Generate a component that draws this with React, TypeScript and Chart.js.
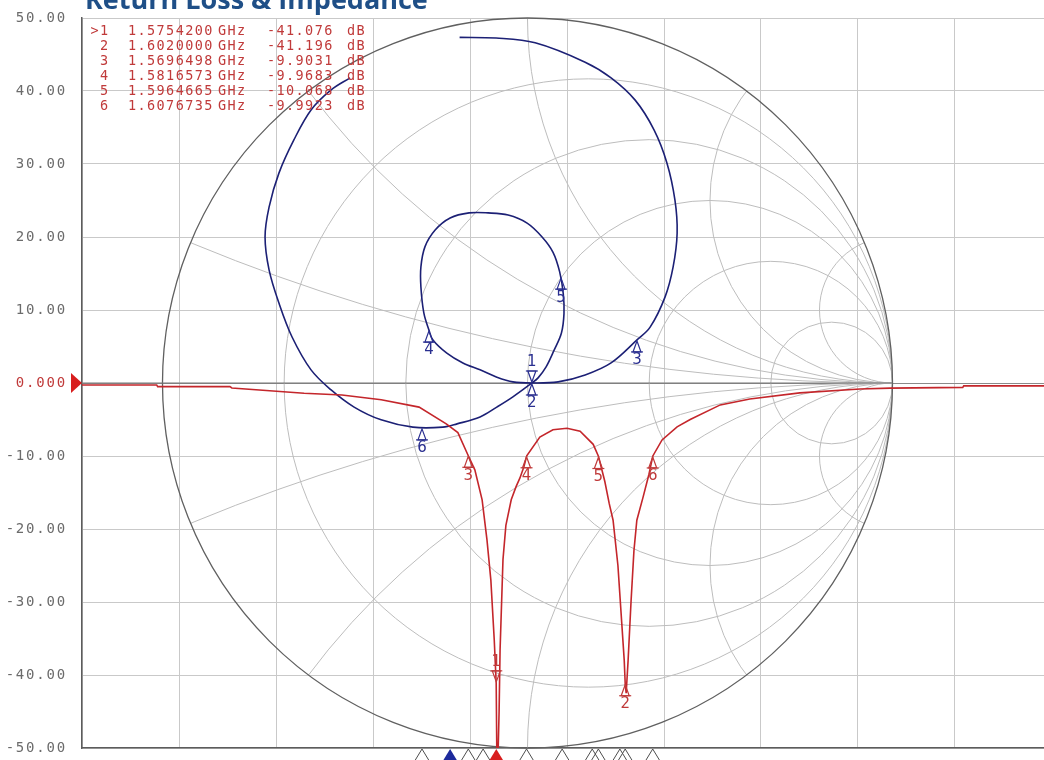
import { useEffect, useRef } from 'react';
import { Chart, registerables } from 'chart.js';

Chart.register(...registerables);

// ---------------- data ----------------
const titleText = 'Return Loss & Impedance';

const xGridTicksGHz = [1.49, 1.51, 1.53, 1.55, 1.57, 1.59, 1.61, 1.63, 1.65, 1.67, 1.69];
const yTicksDb = [-50, -40, -30, -20, -10, 0, 10, 20, 30, 40, 50];

// Return loss trace (frequency GHz, dB)
const rlFreqGHz = [
  1.49, 1.5054, 1.5056, 1.5205, 1.5209, 1.5358, 1.5436, 1.5517, 1.5595, 1.5651, 1.5675,
  1.5696, 1.571, 1.5725, 1.5735, 1.5743, 1.575, 1.5754, 1.5756, 1.576, 1.5762, 1.5768,
  1.5774, 1.5785, 1.5795, 1.5803, 1.5811, 1.5817, 1.5844, 1.5871, 1.59, 1.5927, 1.5954,
  1.5965, 1.5978, 1.5987, 1.5995, 1.6005, 1.6013, 1.6018, 1.602, 1.6022, 1.6026, 1.6032,
  1.6038, 1.6044, 1.6057, 1.6069, 1.6077, 1.6096, 1.6127, 1.6154, 1.6216, 1.6277, 1.638,
  1.6504, 1.6566, 1.6716, 1.6718, 1.69,
];
const rlDb = [
  -0.27, -0.27, -0.5, -0.5, -0.68, -1.4, -1.65, -2.3, -3.3, -5.6, -6.8,
  -9.9, -11.9, -16.0, -21.5, -27.0, -35.2, -41.1, -56.0, -45.0, -36.6, -24.2,
  -19.5, -16.0, -14.2, -13.0, -11.5, -9.97, -7.4, -6.4, -6.2, -6.6, -8.4,
  -10.07, -13.5, -16.5, -18.8, -25.0, -33.0, -38.0, -41.2, -42.5, -38.0, -30.0,
  -23.0, -18.8, -15.6, -12.5, -9.99, -7.8, -6.0, -5.0, -3.0, -2.2, -1.35,
  -0.82, -0.7, -0.6, -0.4, -0.4,
];

// Impedance trace on the Smith chart (reflection coefficient, real / imaginary)
const smithRe = [
  -0.186, -0.086, 0.021, 0.158, 0.229, 0.295, 0.347, 0.382, 0.404, 0.41, 0.399, 0.377,
  0.336, 0.3, 0.229, 0.158, 0.084, 0.012,
  -0.04, -0.084, -0.13, -0.177, -0.221, -0.259, -0.27, -0.284, -0.292, -0.292, -0.281,
  -0.253, -0.212, -0.16, -0.108, -0.053, -0.001, 0.04, 0.07, 0.088, 0.098, 0.1, 0.093,
  0.073, 0.051, 0.029, 0.012,
  -0.04, -0.084, -0.13, -0.193, -0.232, -0.314, -0.401, -0.475, -0.538, -0.593, -0.645,
  -0.681, -0.708, -0.719, -0.708, -0.681, -0.64, -0.593, -0.538, -0.486,
];
const smithIm = [
  0.947, 0.945, 0.932, 0.879, 0.836, 0.775, 0.693, 0.603, 0.501, 0.411, 0.318, 0.236,
  0.153, 0.118, 0.055, 0.022, 0.003, 0.0,
  0.003, 0.016, 0.036, 0.055, 0.082, 0.118, 0.145, 0.192, 0.263, 0.318, 0.373,
  0.419, 0.452, 0.466, 0.466, 0.46, 0.438, 0.4, 0.358, 0.305, 0.245, 0.19, 0.137,
  0.09, 0.044, 0.014, 0.0,
  -0.038, -0.066, -0.093, -0.112, -0.121, -0.121, -0.101, -0.066, -0.019, 0.036, 0.126,
  0.219, 0.31, 0.4, 0.482, 0.575, 0.666, 0.748, 0.803, 0.836,
];

// Markers
const markerIds = ['1', '2', '3', '4', '5', '6'];
const markerFreqGHz = [1.57542, 1.602, 1.5696498, 1.5816573, 1.5964665, 1.6076735];
const markerDb = [-41.076, -41.196, -9.9031, -9.9683, -10.068, -9.9923];
const markerFreqLabels = ['1.5754200', '1.6020000', '1.5696498', '1.5816573', '1.5964665', '1.6076735'];
const markerDbLabels = ['-41.076', '-41.196', '-9.9031', '-9.9683', '-10.068', '-9.9923'];

const smithMarkerRe = [0.012, 0.012, 0.3, -0.27, 0.092, -0.289];
const smithMarkerIm = [0.0, 0.0, 0.118, 0.145, 0.29, -0.123];

// Stimulus markers of the impedance channel shown on the frequency axis
const smithAxisMarkerGHz = [1.5659, 1.5601, 1.5727, 1.589, 1.5952, 1.6009];

// Smith chart grid values
const smithResistances = [0.2, 0.5, 1, 2, 5];
const smithReactances = [0.2, 0.5, 1, 2, 5];

// ---------------- styles ----------------
const RED = '#c4262b';
const RED_TEXT = '#c03a3a';
const BLUE = '#1c2075';
const BLUE_TEXT = '#2a2f90';
const GRID = '#c9c9c9';
const SMITH_GRID = '#bdbdbd';
const AXIS = '#5c5c5c';
const LABEL_GRAY = '#6b6b6b';
const MONO = '"DejaVu Sans Mono", "Liberation Mono", monospace';
const SANS = '"DejaVu Sans", sans-serif';

function markerGlyph(ctx: CanvasRenderingContext2D, x: number, y: number, dir: number, color: string, label: string) {
  // dir = 1: body below the tip, label below; dir = -1: body above, label above
  const h = 12;
  const w = 8;
  ctx.save();
  ctx.strokeStyle = color;
  ctx.lineWidth = 1.2;
  ctx.beginPath();
  ctx.moveTo(x, y + dir * 1);
  ctx.lineTo(x - w / 2, y + dir * h);
  ctx.lineTo(x + w / 2, y + dir * h);
  ctx.closePath();
  ctx.stroke();
  ctx.beginPath();
  ctx.moveTo(x - 6, y + dir * h);
  ctx.lineTo(x + 6, y + dir * h);
  ctx.stroke();
  ctx.fillStyle = color;
  ctx.font = `15px ${SANS}`;
  ctx.textAlign = 'center';
  ctx.textBaseline = dir > 0 ? 'top' : 'bottom';
  ctx.fillText(label, x, y + dir * (h + 1));
  ctx.restore();
}

const smithGridPlugin = {
  id: 'smithGrid',
  beforeDatasetsDraw(chart: any) {
    const { ctx, chartArea } = chart;
    const sx = chart.scales.sx;
    const sy = chart.scales.sy;
    const px = (v: number) => sx.getPixelForValue(v);
    const py = (v: number) => sy.getPixelForValue(v);
    const cx = px(0);
    const cy = py(0);
    const R = px(1) - cx;
    ctx.save();
    ctx.beginPath();
    ctx.arc(cx, cy, R, 0, Math.PI * 2);
    ctx.clip();
    ctx.strokeStyle = SMITH_GRID;
    ctx.lineWidth = 1;
    for (const r of smithResistances) {
      const c = r / (1 + r);
      const rad = 1 / (1 + r);
      ctx.beginPath();
      ctx.arc(px(c), cy, rad * R, 0, Math.PI * 2);
      ctx.stroke();
    }
    for (const x of smithReactances) {
      for (const s of [1, -1]) {
        ctx.beginPath();
        ctx.arc(px(1), py(s / x), R / x, 0, Math.PI * 2);
        ctx.stroke();
      }
    }
    ctx.restore();
    ctx.save();
    ctx.strokeStyle = '#606060';
    ctx.lineWidth = 1.3;
    ctx.beginPath();
    ctx.arc(cx, cy, R, 0, Math.PI * 2);
    ctx.stroke();
    ctx.strokeStyle = '#777777';
    ctx.lineWidth = 1.2;
    ctx.beginPath();
    ctx.moveTo(chartArea.left, cy);
    ctx.lineTo(px(1), cy);
    ctx.stroke();
    ctx.restore();
  },
};

const overlayPlugin = {
  id: 'overlay',
  afterDatasetsDraw(chart: any) {
    const { ctx } = chart;
    const xs = chart.scales.x;
    const ys = chart.scales.y;
    const sx = chart.scales.sx;
    const sy = chart.scales.sy;
    markerIds.forEach((id, i) => {
      const x = xs.getPixelForValue(markerFreqGHz[i]);
      const y = ys.getPixelForValue(markerDb[i]);
      markerGlyph(ctx, x, y, i === 0 ? -1 : 1, RED_TEXT, id);
    });
    markerIds.forEach((id, i) => {
      const x = sx.getPixelForValue(smithMarkerRe[i]);
      const y = sy.getPixelForValue(smithMarkerIm[i]);
      markerGlyph(ctx, x, y, i === 0 ? -1 : 1, BLUE_TEXT, id);
    });
  },
  afterDraw(chart: any) {
    const { ctx, chartArea } = chart;
    const xs = chart.scales.x;
    const ys = chart.scales.y;
    ctx.save();
    // y tick labels
    ctx.font = `14px ${MONO}`;
    ctx.textAlign = 'right';
    ctx.textBaseline = 'middle';
    (ctx as any).letterSpacing = '1.8px';
    for (const t of ys.ticks) {
      const v = t.value;
      const text = v === 0 ? '0.000' : v.toFixed(2);
      ctx.fillStyle = v === 0 ? RED_TEXT : LABEL_GRAY;
      ctx.fillText(text, chartArea.left - 15, ys.getPixelForValue(v));
    }
    // reference level arrow
    const y0 = ys.getPixelForValue(0);
    ctx.fillStyle = '#d81e1e';
    ctx.beginPath();
    ctx.moveTo(chartArea.left - 11, y0 - 10);
    ctx.lineTo(chartArea.left, y0);
    ctx.lineTo(chartArea.left - 11, y0 + 10);
    ctx.closePath();
    ctx.fill();

    // marker table
    ctx.font = `13.5px ${MONO}`;
    (ctx as any).letterSpacing = '1.4px';
    ctx.fillStyle = RED_TEXT;
    ctx.textBaseline = 'middle';
    markerIds.forEach((id, i) => {
      const y = chartArea.top + 13.7 + i * 15;
      const l = chartArea.left;
      ctx.textAlign = 'right';
      ctx.fillText((i === 0 ? '>' : '') + id, l + 27.5, y);
      ctx.textAlign = 'left';
      ctx.fillText(markerFreqLabels[i], l + 46, y);
      ctx.fillText('GHz', l + 136, y);
      ctx.fillText(markerDbLabels[i], l + 185, y);
      ctx.fillText('dB', l + 265, y);
    });
    (ctx as any).letterSpacing = '0px';

    // stimulus markers on the frequency axis
    const bottom = chartArea.bottom;
    const axisTri = (x: number, fill: string | null) => {
      ctx.beginPath();
      ctx.moveTo(x, bottom + 1);
      ctx.lineTo(x - 8.5, bottom + 15);
      ctx.lineTo(x + 8.5, bottom + 15);
      ctx.closePath();
      if (fill) {
        ctx.fillStyle = fill;
        ctx.fill();
      } else {
        ctx.strokeStyle = '#4d4d4d';
        ctx.lineWidth = 1;
        ctx.stroke();
      }
    };
    markerFreqGHz.forEach((f, i) => { if (i > 0) axisTri(xs.getPixelForValue(f), null); });
    smithAxisMarkerGHz.forEach((f, i) => { if (i > 0) axisTri(xs.getPixelForValue(f), null); });
    axisTri(xs.getPixelForValue(smithAxisMarkerGHz[0]), '#1d2a9c');
    axisTri(xs.getPixelForValue(markerFreqGHz[0]), '#d81e1e');

    // title (partially above the top edge)
    ctx.font = `bold 27px "Open Sans", ${SANS}`;
    ctx.textAlign = 'left';
    ctx.textBaseline = 'alphabetic';
    ctx.fillStyle = '#1f4f87';
    ctx.fillText(titleText, chartArea.left + 3, 9);
    ctx.restore();
  },
};

export default function App() {
  const ref = useRef<HTMLCanvasElement>(null);
  useEffect(() => {
    const canvas = ref.current;
    if (!canvas) return;
    const chart = new Chart(canvas, {
      type: 'scatter',
      data: {
        datasets: [
          {
            label: 'Return Loss',
            data: rlFreqGHz.map((f, i) => ({ x: f, y: rlDb[i] })),
            xAxisID: 'x',
            yAxisID: 'y',
            showLine: true,
            borderColor: RED,
            borderWidth: 1.6,
            pointRadius: 0,
            tension: 0,
          },
          {
            label: 'Impedance',
            data: smithRe.map((r, i) => ({ x: r, y: smithIm[i] })),
            xAxisID: 'sx',
            yAxisID: 'sy',
            showLine: true,
            borderColor: BLUE,
            borderWidth: 1.6,
            pointRadius: 0,
            tension: 0.35,
          },
        ],
      },
      options: {
        responsive: false,
        animation: false,
        events: [],
        layout: { padding: { left: 0, right: 8, top: 18, bottom: 12 } },
        plugins: { legend: { display: false }, tooltip: { enabled: false }, title: { display: false } },
        scales: {
          x: {
            type: 'linear',
            position: 'bottom',
            min: 1.49,
            max: 1.69,
            afterBuildTicks: (axis: any) => {
              axis.ticks = xGridTicksGHz.map((v) => ({ value: v }));
            },
            ticks: { display: false },
            grid: { color: GRID, drawTicks: false, lineWidth: 1 },
            border: { display: true, color: AXIS, width: 1.5 },
          },
          y: {
            type: 'linear',
            position: 'left',
            min: -50,
            max: 50,
            afterBuildTicks: (axis: any) => {
              axis.ticks = yTicksDb.map((v) => ({ value: v }));
            },
            afterFit: (axis: any) => {
              axis.width = 82;
            },
            ticks: { display: false },
            grid: { color: (c: any) => (c.tick && c.tick.value === 0 ? '#8a8a8a' : GRID), drawTicks: false, lineWidth: 1 },
            border: { display: true, color: AXIS, width: 1.5 },
          },
          sx: { type: 'linear', display: false, position: 'bottom', min: -1.2205, max: 1.437 },
          sy: { type: 'linear', display: false, position: 'left', min: -1, max: 1 },
        },
      } as any,
      plugins: [smithGridPlugin, overlayPlugin],
    });
    return () => chart.destroy();
  }, []);
  return (
    <div style={{ position: 'absolute', left: 0, top: 0, width: 1044, height: 760, overflow: 'hidden', background: '#ffffff' }}>
      <canvas ref={ref} width={1060} height={760} style={{ display: 'block', width: 1060, height: 760 }} />
    </div>
  );
}
